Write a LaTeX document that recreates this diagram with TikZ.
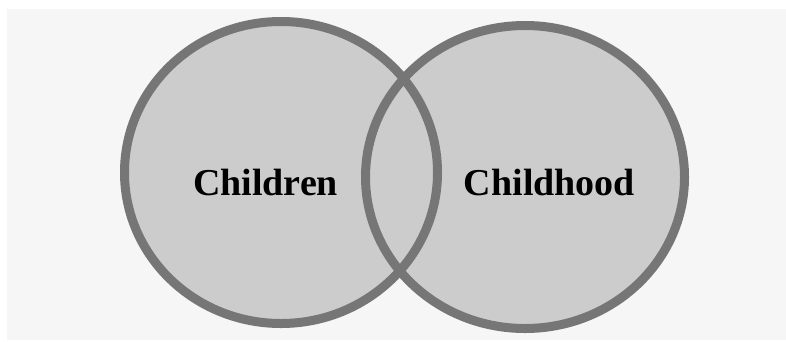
\documentclass[tikz,border=0pt]{standalone}
\usepackage{fontspec}
\setmainfont{Liberation Serif}
\definecolor{PageGray}{RGB}{246,246,246}
\definecolor{SetFill}{RGB}{204,204,204}
\definecolor{SetRim}{RGB}{118,118,118}

\begin{document}
\begin{tikzpicture}[x=1pt, y=-1pt,
    setrim/.style={draw=SetRim, line width=9pt},
    setlabel/.style={font=\fontsize{38}{40}\selectfont\bfseries, anchor=base, inner sep=0pt}]
    % Picture size (pixels of the reference)
    \useasboundingbox (0,0) rectangle (786,341);
    \fill[PageGray] (7,9) rectangle (786,340);

    % Fill both sets first, then their rims
    \fill[SetFill] (281,172.5) ellipse [x radius=156.5, y radius=151];
    \fill[SetFill] (525,177) ellipse [x radius=159.5, y radius=151.5];
    \draw[setrim] (281,172.5) ellipse [x radius=156.5, y radius=151];
    \draw[setrim] (525,177) ellipse [x radius=159.5, y radius=151.5];

    % Labels
    \node[setlabel] (children) at (265.5,195) {Children};
    \node[setlabel] (childhood) at (549.5,195) {Childhood};
\end{tikzpicture}
\end{document}
